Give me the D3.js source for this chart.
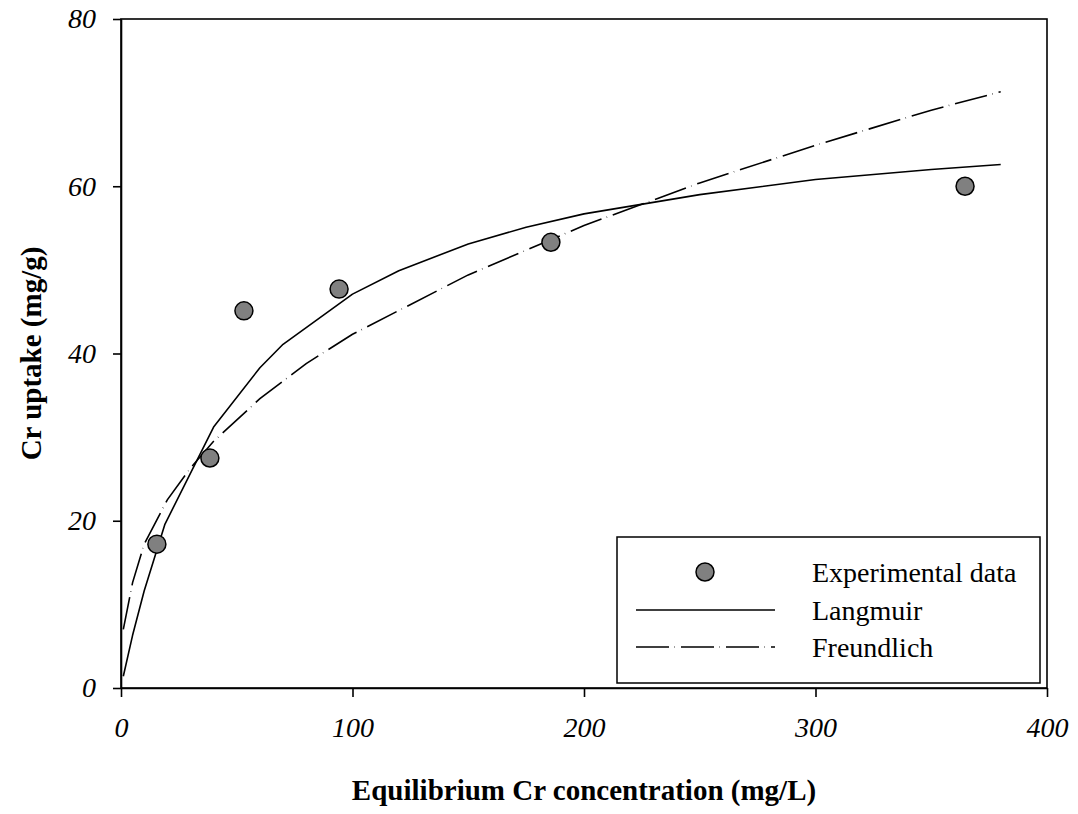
<!DOCTYPE html>
<html>
<head>
<meta charset="utf-8">
<script src="https://cdn.jsdelivr.net/npm/d3@7"></script>
<style>
  body { margin: 0; background: #fff; }
  svg { display: block; font-family: "Liberation Serif", "Times New Roman", serif; }
</style>
</head>
<body>
<div id="chart"></div>
<script>
// experimental points (Ce mg/L, qe mg/g)
const expC = [15.5, 38.4, 53.1, 94.2, 185.7, 364.6];
const expQ = [17.2, 27.5, 45.1, 47.7, 53.3, 60.0];

// fitted curves
const langC = [1, 5, 10, 19, 40, 60, 70, 100, 120, 150, 175, 200, 250, 300, 350, 380];
const langQ = [1.4, 6.3, 11.6, 19.6, 31.2, 38.3, 41.1, 47.1, 49.9, 53.1, 55.1, 56.7, 59.0, 60.8, 62.0, 62.6];
const freuC = [1, 5, 10, 20, 30, 40, 60, 80, 100, 150, 200, 250, 300, 350, 380];
const freuQ = [7.0, 12.6, 17.2, 22.5, 26.3, 29.5, 34.6, 38.8, 42.3, 49.4, 55.3, 60.4, 64.9, 69.1, 71.3];

const xTicks = [0, 100, 200, 300, 400];
const yTicks = [0, 20, 40, 60, 80];
const legendLabels = ['Experimental data', 'Langmuir', 'Freundlich'];

const width = 1078, height = 814;
const margin = { top: 19, right: 31, bottom: 126, left: 121 };
const chartWidth = width - margin.left - margin.right;
const chartHeight = height - margin.top - margin.bottom;
const dashPattern = '33,5.5,0.5,6';

const svg = d3.select('#chart').append('svg')
  .attr('width', width)
  .attr('height', height);

const g = svg.append('g').attr('transform', `translate(${margin.left},${margin.top})`);

const xScale = d3.scaleLinear().domain([0, 400]).range([0, chartWidth]);
const yScale = d3.scaleLinear().domain([0, 80]).range([chartHeight, 0]);

// frame
g.append('rect')
  .attr('x', 0).attr('y', 0)
  .attr('width', chartWidth).attr('height', chartHeight)
  .attr('fill', 'none')
  .attr('stroke', '#000')
  .attr('stroke-width', 1.6);

// x axis
const xAxis = g.append('g')
  .attr('transform', `translate(0,${chartHeight})`)
  .call(d3.axisBottom(xScale).tickValues(xTicks).tickSize(9).tickSizeOuter(0).tickPadding(20).tickFormat(d3.format('d')));

// y axis
const yAxis = g.append('g')
  .call(d3.axisLeft(yScale).tickValues(yTicks).tickSize(8).tickSizeOuter(0).tickPadding(17).tickFormat(d3.format('d')));

[xAxis, yAxis].forEach((ax) => {
  ax.select('.domain').attr('stroke-width', 1.6);
  ax.selectAll('.tick line').attr('stroke-width', 1.6);
  ax.selectAll('.tick text')
    .attr('font-family', '"Liberation Serif", serif')
    .attr('font-style', 'italic')
    .attr('font-size', '28px')
    .attr('fill', '#000');
});

// curves
const lineGen = d3.line()
  .x(d => xScale(d[0]))
  .y(d => yScale(d[1]));

g.append('path')
  .datum(d3.zip(langC, langQ))
  .attr('fill', 'none')
  .attr('stroke', '#000')
  .attr('stroke-width', 1.6)
  .attr('stroke-linejoin', 'round')
  .attr('d', lineGen);

g.append('path')
  .datum(d3.zip(freuC, freuQ))
  .attr('fill', 'none')
  .attr('stroke', '#000')
  .attr('stroke-width', 1.6)
  .attr('stroke-dasharray', dashPattern)
  .attr('d', lineGen);

// points
g.selectAll('circle.pt')
  .data(d3.zip(expC, expQ))
  .join('circle')
  .attr('class', 'pt')
  .attr('cx', d => xScale(d[0]))
  .attr('cy', d => yScale(d[1]))
  .attr('r', 9)
  .attr('fill', '#808080')
  .attr('stroke', '#000')
  .attr('stroke-width', 1.5);

// axis titles
svg.append('text')
  .attr('x', margin.left + chartWidth / 2)
  .attr('y', 800)
  .attr('text-anchor', 'middle')
  .attr('font-weight', 'bold')
  .attr('font-size', '29px')
  .text('Equilibrium Cr concentration (mg/L)');

svg.append('text')
  .attr('transform', `translate(41,${margin.top + chartHeight / 2}) rotate(-90)`)
  .attr('text-anchor', 'middle')
  .attr('font-weight', 'bold')
  .attr('font-size', '29px')
  .text('Cr uptake (mg/g)');

// legend
const legend = svg.append('g').attr('transform', 'translate(617,537)');
legend.append('rect')
  .attr('width', 423).attr('height', 146)
  .attr('fill', '#fff')
  .attr('stroke', '#000')
  .attr('stroke-width', 1.5);

const rowY = [35, 73, 110];
legend.append('circle')
  .attr('cx', 88).attr('cy', rowY[0])
  .attr('r', 9)
  .attr('fill', '#808080')
  .attr('stroke', '#000')
  .attr('stroke-width', 1.5);
legend.append('line')
  .attr('x1', 19).attr('x2', 158)
  .attr('y1', rowY[1]).attr('y2', rowY[1])
  .attr('stroke', '#000').attr('stroke-width', 1.6);
legend.append('line')
  .attr('x1', 19).attr('x2', 158)
  .attr('y1', rowY[2]).attr('y2', rowY[2])
  .attr('stroke', '#000').attr('stroke-width', 1.6)
  .attr('stroke-dasharray', dashPattern);

legend.selectAll('text.lab')
  .data(legendLabels)
  .join('text')
  .attr('class', 'lab')
  .attr('x', 195)
  .attr('y', (d, i) => rowY[i] + 10)
  .attr('font-size', '28px')
  .text(d => d);
</script>
</body>
</html>
